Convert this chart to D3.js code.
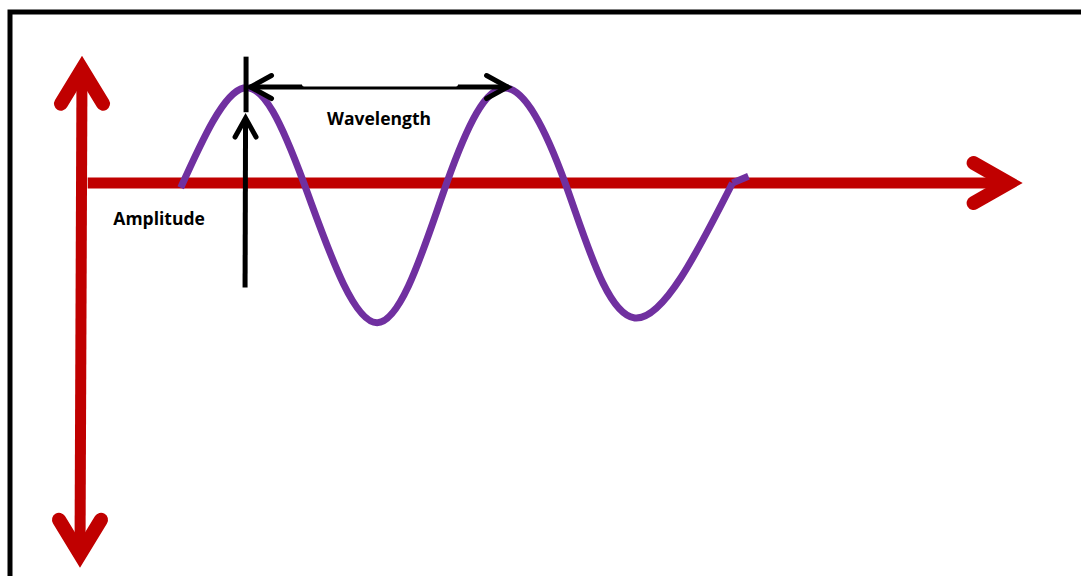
<!DOCTYPE html>
<html>
<head>
<meta charset="utf-8">
<script src="https://cdn.jsdelivr.net/npm/d3@7"></script>
<style>
    html, body { margin: 0; padding: 0; background: #fff; overflow: hidden; }
</style>
</head>
<body>
<div id="chart"></div>
<script>
// wave: x in axis units, y as displacement (crest = 1)
var waveX = [1.05, 1.72, 2.36, 3.14, 3.88, 4.50, 5.14, 5.88, 6.92];
var waveY = [-0.05, 1.00, 0.00, -1.47, 0.00, 1.00, 0.00, -1.42, 0.00];
// the little kink where the wave stops
var tailX = [6.92, 7.09];
var tailY = [0.00, 0.07];

// axes extents
var axisX = [0.05, 10];
var axisY = [-4.05, 1.34];

// annotations
var wavelengthX = [1.75, 4.57];
var wavelengthY = 1.01;
var amplitudeX = 1.74;
var amplitudeY = [-1.10, 0.715, 0.745, 1.33];   // bottom, arrow tip, gap, top
var labelText = ["Wavelength", "Amplitude"];
var labelX = [3.16, 0.82];
var labelY = [0.61, -0.44];

var width = 1081, height = 576;
var red = "#c00000", purple = "#7030a0";

var x = d3.scaleLinear().domain([0, 10]).range([82, 1022]);
var y = d3.scaleLinear().domain([0, 1]).range([183, 88]);

var svg = d3.select("#chart")
    .append("svg")
    .attr("width", width)
    .attr("height", height);

// frame (runs off the right and bottom edges)
svg.append("rect")
    .attr("x", 10).attr("y", 12)
    .attr("width", 1200).attr("height", 700)
    .attr("fill", "none")
    .attr("stroke", "#000")
    .attr("stroke-width", 5);

var line = d3.line()
    .x(function(d) { return x(d[0]); })
    .y(function(d) { return y(d[1]); });

// chevron arrowhead: tip point, direction (unit vector), arm length back/side in px,
// inset = how far the join sits behind the tip so the miter lands on it
function chevron(tipPx, dir, back, side, inset) {
    var tx = tipPx[0] - dir[0] * inset, ty = tipPx[1] - dir[1] * inset;
    var nx = -dir[1], ny = dir[0];
    return "M" + (tx - dir[0] * back + nx * side) + "," + (ty - dir[1] * back + ny * side) +
        "L" + tx + "," + ty +
        "L" + (tx - dir[0] * back - nx * side) + "," + (ty - dir[1] * back - ny * side);
}

var axes = svg.append("g").attr("class", "axes");

// vertical axis
axes.append("line")
    .attr("x1", x(0)).attr("y1", y(axisY[1]) + 14)
    .attr("x2", x(0) - 2).attr("y2", y(axisY[0]) - 14)
    .attr("stroke", red).attr("stroke-width", 11);

axes.append("path")
    .attr("d", chevron([x(0), y(axisY[1])], [0, -1], 34.5, 21, 13.5))
    .attr("fill", "none").attr("stroke", red).attr("stroke-width", 14)
    .attr("stroke-linecap", "round").attr("stroke-linejoin", "miter");

axes.append("path")
    .attr("d", chevron([x(0) - 2, y(axisY[0])], [0, 1], 34.5, 21, 13.5))
    .attr("fill", "none").attr("stroke", red).attr("stroke-width", 14)
    .attr("stroke-linecap", "round").attr("stroke-linejoin", "miter");

// horizontal axis
axes.append("line")
    .attr("x1", x(axisX[0]) + 1).attr("y1", y(0))
    .attr("x2", x(axisX[1]) - 14).attr("y2", y(0))
    .attr("stroke", red).attr("stroke-width", 11);

axes.append("path")
    .attr("d", chevron([x(axisX[1]), y(0)], [1, 0], 35, 20, 13.4))
    .attr("fill", "none").attr("stroke", red).attr("stroke-width", 14)
    .attr("stroke-linecap", "round").attr("stroke-linejoin", "miter");

// white label box for "Amplitude"
svg.append("rect")
    .attr("x", 87).attr("y", 192)
    .attr("width", 150).attr("height", 50)
    .attr("fill", "#fff");

// wave
var wave = d3.zip(waveX, waveY);
var tail = d3.zip(tailX, tailY);

svg.append("path")
    .attr("d", line.curve(d3.curveNatural)(wave))
    .attr("fill", "none").attr("stroke", purple).attr("stroke-width", 7);

svg.append("path")
    .attr("d", line.curve(d3.curveLinear)(tail))
    .attr("fill", "none").attr("stroke", purple).attr("stroke-width", 7)
    .attr("stroke-linejoin", "round");

// wavelength double arrow
var ann = svg.append("g").attr("class", "annotations");
var wl0 = x(wavelengthX[0]), wl1 = x(wavelengthX[1]), wly = y(wavelengthY);

ann.append("line")
    .attr("x1", wl0 + 3).attr("y1", wly)
    .attr("x2", wl1 - 3).attr("y2", wly)
    .attr("stroke", "#000").attr("stroke-width", 5);

ann.append("path")
    .attr("d", chevron([wl0, wly], [-1, 0], 21, 11.5, 4))
    .attr("fill", "none").attr("stroke", "#000").attr("stroke-width", 5)
    .attr("stroke-linecap", "round");

ann.append("path")
    .attr("d", chevron([wl1, wly], [1, 0], 21, 11.5, 4))
    .attr("fill", "none").attr("stroke", "#000").attr("stroke-width", 5)
    .attr("stroke-linecap", "round");

// the text box that nibbles the top of the wavelength line
ann.append("rect")
    .attr("x", 302).attr("y", wly - 6)
    .attr("width", 156).attr("height", 5.5)
    .attr("rx", 2)
    .attr("fill", "#fff");

// amplitude marker
var ax = x(amplitudeX);
ann.append("line")
    .attr("x1", ax + 0.5).attr("y1", y(amplitudeY[3]))
    .attr("x2", ax + 0.5).attr("y2", y(amplitudeY[2]))
    .attr("stroke", "#000").attr("stroke-width", 5);

ann.append("line")
    .attr("x1", ax - 0.5).attr("y1", y(amplitudeY[0]))
    .attr("x2", ax).attr("y2", y(amplitudeY[1]) + 3)
    .attr("stroke", "#000").attr("stroke-width", 5);

ann.append("path")
    .attr("d", chevron([ax, y(amplitudeY[1])], [0, -1], 19, 10.5, 3))
    .attr("fill", "none").attr("stroke", "#000").attr("stroke-width", 5)
    .attr("stroke-linecap", "round");

// labels
svg.append("g")
    .selectAll("text")
    .data(labelText)
    .enter().append("text")
    .attr("x", function(d, i) { return x(labelX[i]); })
    .attr("y", function(d, i) { return y(labelY[i]); })
    .attr("text-anchor", "middle")
    .attr("font-family", "'Open Sans', sans-serif")
    .attr("font-weight", "bold")
    .attr("font-size", "17.5px")
    .attr("fill", "#000")
    .text(function(d) { return d; });
</script>
</body>
</html>
